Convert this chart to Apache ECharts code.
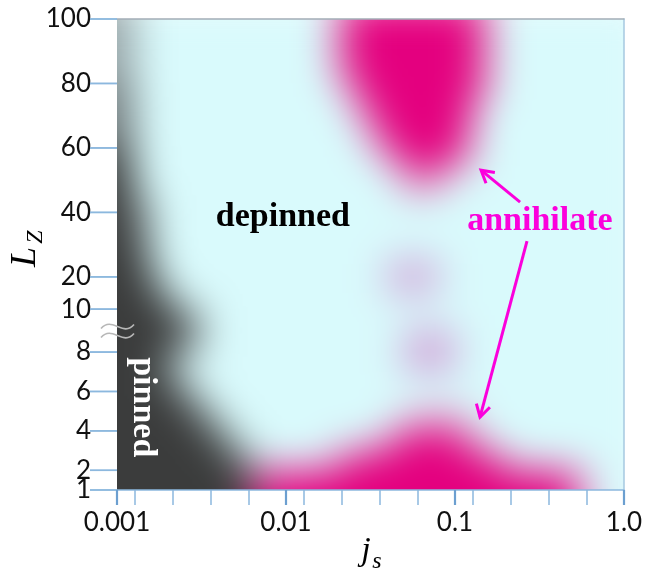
<!DOCTYPE html>
<html>
<head>
<meta charset="utf-8">
<script src="https://cdn.jsdelivr.net/npm/echarts@6/dist/echarts.min.js"></script>
<style>
  html, body { margin: 0; padding: 0; background: #ffffff; }
  #chart { width: 651px; height: 573px; }
</style>
</head>
<body>
<div id="chart"></div>
<script>
// Domain-wall phase diagram: wall length L_Z against spin-current density j_s.

// x axis (log10 of j_s)
const jsTickLabels = ['0.001', '0.01', '0.1', '1.0'];
const jsDecades = [-3, -2, -1, 0];
const jsMinorFractions = [0.107, 0.33, 0.554, 0.777];

// y axis (L_Z) ticks; the axis is split between 8 and 10
const lzTicks = [1, 2, 4, 6, 8, 10, 20, 40, 60, 80, 100];

// phase map rows (top to bottom) bounded by these L_Z edges
const lzEdges = [100, 95, 90, 85, 80, 75, 70, 65, 60, 55, 50, 45, 40, 35, 30, 25, 20, 15, 10, 9, 8, 7, 6, 5, 4, 3, 2, 1];
// phase map columns: 0.1-decade bins of j_s from 0.001 to 1
const logJsMin = -3, logJsMax = 0, logJsStep = 0.1;

// phase per cell:  . depinned   P pinned   l/g pinned fringe
//                  A annihilate  m/p annihilate fringe   f weak annihilation
const phaseRows = [
  'l............mAAAAAAAm........',
  'l............mAAAAAAAm........',
  'l............mAAAAAAAm........',
  'l............mAAAAAAAm........',
  'g.............mAAAAAAm........',
  'g.............mAAAAAA.........',
  'g..............mAAAAA.........',
  'g..............mAAAAm.........',
  'P...............mAAAm.........',
  'P................mmp..........',
  'P................pp...........',
  'Pg............................',
  'Pg............................',
  'Pg............................',
  'PP............................',
  'PP..............fff...........',
  'PPg.............fff...........',
  'PPP...........................',
  'PPPPg.........................',
  'PPPPg............fff..........',
  'PPP..............fff..........',
  'PPPg..........................',
  'PPPPg.........................',
  'PPPPPg...........pppp.........',
  'PPPPPPg.........mAAAm.........',
  'PPPPPPPg.....mAAAAAAAAm.......',
  'PPPPPPPPmAAAAAAAAAAAAAAAAAAp..'
];

const phaseColors = {
  '.': '#d9fafc',
  'P': '#3b3c3c',
  'g': '#737b7d',
  'l': '#98a4a7',
  'A': '#e4007f',
  'm': '#e33d98',
  'p': '#e2a2cf',
  'f': '#d2a0d6'
};

// piecewise-linear L_Z axis: 1..8 on a wide scale, a break, then 10..100
const BREAK_SPAN = 2.18;
const UPPER_SCALE = 0.1636;
function lzToAxis(L) {
  if (L <= 8) return L - 1;
  if (L <= 10) return 7 + (L - 8) * BREAK_SPAN / 2;
  return 7 + BREAK_SPAN + (L - 10) * UPPER_SCALE;
}
const yAxisMax = lzToAxis(100);

const phaseCodes = Object.keys(phaseColors);
const nCols = phaseRows[0].length;
const nRows = phaseRows.length;
const cells = [];
phaseRows.forEach(function (row, r) {
  for (let c = 0; c < row.length; c++) {
    const x0 = logJsMin + c * logJsStep;
    const uTop = lzToAxis(lzEdges[r]);
    const uBot = lzToAxis(lzEdges[r + 1]);
    cells.push([x0 + logJsStep / 2, (uTop + uBot) / 2, phaseCodes.indexOf(row[c]), c, r]);
  }
});

const jsTicks = [];
jsDecades.forEach(function (d) {
  jsTicks.push(d);
  if (d < logJsMax) jsMinorFractions.forEach(function (f) { jsTicks.push(d + f); });
});

const tickBlue = '#8cb8de';
const majorBlue = '#6c9fd0';
const labelFont = 'Lato';
const yTickLen = 27;

const chart = echarts.init(document.getElementById('chart'), null, { renderer: 'canvas' });

chart.setOption({
  animation: false,
  grid: { left: 117, right: 27, top: 19, bottom: 83, show: false, zlevel: 1 },
  xAxis: [
    {
      type: 'value', min: logJsMin, max: logJsMax, position: 'bottom', zlevel: 1,
      splitLine: { show: false },
      axisLine: { show: true, onZero: false, lineStyle: { color: tickBlue, width: 1.5 } },
      axisTick: { show: true, customValues: jsTicks, length: 15, lineStyle: { color: tickBlue, width: 1.5 } },
      axisLabel: {
        customValues: jsDecades, margin: 20, fontSize: 26, fontFamily: labelFont, color: '#111',
        formatter: function (v) {
          const i = jsDecades.findIndex(function (d) { return Math.abs(d - v) < 1e-6; });
          return i >= 0 ? jsTickLabels[i] : '';
        }
      }
    },
    {
      type: 'value', min: logJsMin, max: logJsMax, position: 'top', zlevel: 1,
      splitLine: { show: false }, axisTick: { show: false }, axisLabel: { show: false },
      axisLine: { show: true, onZero: false, lineStyle: { color: '#a3adb6', width: 1.5 } }
    }
  ],
  yAxis: [
    {
      type: 'value', min: 0, max: yAxisMax, position: 'left', zlevel: 1,
      splitLine: { show: false }, axisLine: { show: false, onZero: false },
      axisTick: { show: false }, axisLabel: { show: false }
    },
    {
      type: 'value', min: 0, max: yAxisMax, position: 'right', zlevel: 1,
      splitLine: { show: false }, axisTick: { show: false }, axisLabel: { show: false },
      axisLine: { show: true, onZero: false, lineStyle: { color: '#a6c8e0', width: 1.5 } }
    }
  ],
  series: [
    {
      type: 'custom',
      name: 'phase',
      coordinateSystem: 'cartesian2d',
      xAxisIndex: 0, yAxisIndex: 0,
      zlevel: 0,
      clip: false,
      silent: true,
      dimensions: ['logJs', 'lz', 'phase', 'col', 'row'],
      encode: { x: 0, y: 1 },
      data: cells,
      renderItem: function (params, api) {
        const c = api.value(3), r = api.value(4), k = api.value(2);
        const x0 = logJsMin + c * logJsStep;
        const p0 = api.coord([x0, lzToAxis(lzEdges[r])]);
        const p1 = api.coord([x0 + logJsStep, lzToAxis(lzEdges[r + 1])]);
        let left = p0[0], right = p1[0], top = p0[1], bottom = p1[1];
        const pad = 80; // carry edge cells past the frame so the soft edges stay filled
        if (c === 0) left -= pad;
        if (c === nCols - 1) right += pad;
        if (r === 0) top -= pad;
        if (r === nRows - 1) bottom += pad;
        return {
          type: 'rect',
          shape: { x: left, y: top, width: right - left + 0.8, height: bottom - top + 0.8 },
          style: { fill: phaseColors[phaseCodes[k]] }
        };
      }
    },
    {
      // L_Z tick marks on the split axis
      type: 'custom',
      name: 'lzTicks',
      coordinateSystem: 'cartesian2d',
      xAxisIndex: 0, yAxisIndex: 0,
      zlevel: 1, z: 50,
      clip: false,
      silent: true,
      encode: { x: 0, y: 1 },
      data: lzTicks.map(function (L) { return [logJsMin, lzToAxis(L)]; }),
      renderItem: function (params, api) {
        const p = api.coord([api.value(0), api.value(1)]);
        return {
          type: 'line',
          shape: { x1: p[0] - yTickLen, y1: p[1], x2: p[0], y2: p[1] },
          style: { stroke: tickBlue, lineWidth: 1.5 }
        };
      }
    }
  ]
});

// annotations, anchored in data space: [j_s, L_Z]
const depinnedAt = [0.00959, 38.5];
const annihilateAt = [0.318, 37.3];
const pinnedAt = [0.001426, 5.2];
const arrowUpper = { from: [0.2427, 43.2], to: [0.1426, 53.1] };
const arrowLower = { from: [0.2667, 31.1], to: [0.1406, 4.7] };
const breakAt = 9;

function px(js, lz) {
  return chart.convertToPixel({ gridIndex: 0 }, [Math.log10(js), lzToAxis(lz)]);
}

const accent = '#fb00dc';
const TOP = 1; // layer above the softened phase map

function arrow(a) {
  const p = px(a.from[0], a.from[1]);
  const q = px(a.to[0], a.to[1]);
  const ang = Math.atan2(q[1] - p[1], q[0] - p[0]);
  const len = 14, spread = Math.PI / 6;
  const h1 = [q[0] - len * Math.cos(ang - spread), q[1] - len * Math.sin(ang - spread)];
  const h2 = [q[0] - len * Math.cos(ang + spread), q[1] - len * Math.sin(ang + spread)];
  return [
    { type: 'polyline', zlevel: TOP, z: 10, shape: { points: [p, q] }, style: { stroke: accent, lineWidth: 3, fill: null } },
    { type: 'polyline', zlevel: TOP, z: 10, shape: { points: [h1, q, h2] }, style: { stroke: accent, lineWidth: 3, fill: null } }
  ];
}

const originPx = chart.convertToPixel({ gridIndex: 0 }, [logJsMin, 0]);
const topRightPx = chart.convertToPixel({ gridIndex: 0 }, [logJsMax, yAxisMax]);
const gridLeft = originPx[0], gridBottom = originPx[1];
const breakY = px(0.001, breakAt)[1];

function wave(x, y) {
  return {
    type: 'bezierCurve', zlevel: TOP, z: 10,
    shape: { x1: x, y1: y + 2, cpx1: x + 11, cpy1: y - 11, cpx2: x + 22, cpy2: y + 11, x2: x + 33, y2: y - 2 },
    style: { stroke: '#b7b7b7', lineWidth: 1.6, fill: null }
  };
}

// L_Z labels on the split axis, placed through the y scale
const axisElements = [];
lzTicks.forEach(function (L) {
  const y = chart.convertToPixel({ yAxisIndex: 0 }, lzToAxis(L));
  axisElements.push({
    type: 'line', zlevel: TOP, z: 100,
    shape: { x1: gridLeft - yTickLen, y1: y, x2: gridLeft, y2: y },
    style: { stroke: tickBlue, lineWidth: 1.5 }
  });
  axisElements.push({
    type: 'text', zlevel: TOP, z: 5, x: gridLeft - yTickLen + 1, y: y,
    style: { text: String(L), font: '26px "' + labelFont + '"', fill: '#111', align: 'right', verticalAlign: 'middle' }
  });
});
// darker decade ticks on the j_s axis
jsDecades.forEach(function (d) {
  const x = chart.convertToPixel({ xAxisIndex: 0 }, d);
  axisElements.push({
    type: 'line', zlevel: TOP, z: 100,
    shape: { x1: x, y1: gridBottom, x2: x, y2: gridBottom + 15 },
    style: { stroke: majorBlue, lineWidth: 2.2 }
  });
});

const dp = px(depinnedAt[0], depinnedAt[1]);
const an = px(annihilateAt[0], annihilateAt[1]);
const pn = px(pinnedAt[0], pinnedAt[1]);

const serif = 'Liberation Serif';

const elements = [
  { type: 'text', zlevel: TOP, z: 10, x: dp[0], y: dp[1],
    style: { text: 'depinned', font: 'bold 34px "' + serif + '"', fill: '#000', align: 'center', verticalAlign: 'middle' } },
  { type: 'text', zlevel: TOP, z: 10, x: an[0], y: an[1],
    style: { text: 'annihilate', font: 'bold 34px "' + serif + '"', fill: accent, align: 'center', verticalAlign: 'middle' } },
  { type: 'text', zlevel: TOP, z: 10, x: pn[0], y: pn[1], rotation: -Math.PI / 2,
    style: { text: 'pinned', font: 'bold 34px "' + serif + '"', fill: '#ffffff', align: 'center', verticalAlign: 'middle' } },
  wave(gridLeft - 16, breakY - 4),
  wave(gridLeft - 16, breakY + 5),
  // axis titles
  { type: 'text', zlevel: TOP, z: 10, x: 26, y: 257, rotation: Math.PI / 2,
    style: { text: 'L', font: 'italic 36px "' + serif + '"', fill: '#000', align: 'center', verticalAlign: 'middle' } },
  { type: 'text', zlevel: TOP, z: 10, x: 36, y: 237, rotation: Math.PI / 2,
    style: { text: 'Z', font: 'italic 24px "' + serif + '"', fill: '#000', align: 'center', verticalAlign: 'middle' } },
  { type: 'text', zlevel: TOP, z: 10, x: 366, y: 551,
    style: { text: 'j', font: 'italic 34px "' + serif + '"', fill: '#000', align: 'center', verticalAlign: 'middle' } },
  { type: 'text', zlevel: TOP, z: 10, x: 377, y: 562,
    style: { text: 's', font: 'italic 24px "' + serif + '"', fill: '#000', align: 'center', verticalAlign: 'middle' } }
].concat(axisElements, arrow(arrowUpper), arrow(arrowLower));

chart.setOption({ graphic: { zlevel: TOP, elements: elements } });

// soften the phase map layer and keep it inside the plot frame
(function () {
  const W = chart.getWidth(), H = chart.getHeight();
  let dom = null;
  try { dom = chart.getZr().painter.getLayer(0).dom; } catch (e) { dom = null; }
  if (!dom) dom = document.querySelector('#chart canvas');
  const inset = [topRightPx[1], W - topRightPx[0], H - gridBottom, gridLeft];
  dom.style.filter = 'blur(20px)';
  dom.style.clipPath = 'inset(' + inset.map(function (v) { return v + 'px'; }).join(' ') + ')';
})();
</script>
</body>
</html>
